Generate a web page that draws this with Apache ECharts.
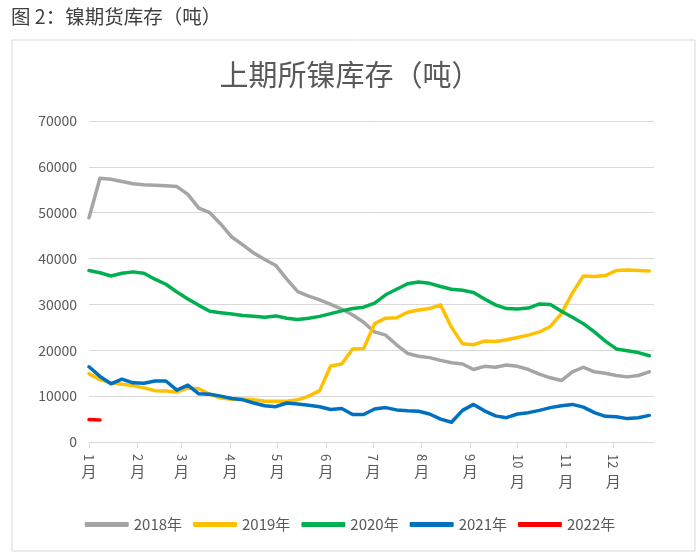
<!DOCTYPE html>
<html>
<head>
    <meta charset="utf-8">
    <title>上期所镍库存</title>
    <script src="https://cdn.jsdelivr.net/npm/echarts@6/dist/echarts.min.js"></script>
    <style>
        body { margin: 0; background: #fff; }
    </style>
</head>
<body>
    <div id="main" style="width: 700px;height:560px;"></div>

    <script>
        // 月份标签 及 每月第一天(一年中的第几天)
        var monthLabels = ['1', '2', '3', '4', '5', '6', '7', '8', '9', '10', '11', '12'];
        var monthStartDays = [0, 31, 59, 90, 120, 151, 181, 212, 243, 273, 304, 334];

        // 每周库存(吨)，按年份
        var stock2018 = [48900, 57500, 57300, 56800, 56300, 56100, 56000, 55900, 55700, 54000, 51000, 50000, 47500,
            44700, 43000, 41200, 39800, 38500, 35500, 32800, 31800, 31000, 30000, 29000, 27700, 26100, 24000,
            23300, 21200, 19300, 18700, 18400, 17800, 17300, 17000, 15800, 16500, 16300, 16800, 16500, 15800,
            14800, 14000, 13400, 15300, 16300, 15300, 15000, 14500, 14200, 14500, 15300];
        var stock2019 = [14900, 13600, 12900, 12600, 12300, 11800, 11200, 11100, 10900, 11800, 11600, 10400, 9600,
            9300, 9400, 9200, 8900, 8900, 8900, 9200, 10000, 11200, 16600, 17000, 20300, 20400, 25800,
            27000, 27100, 28300, 28800, 29100, 29900, 25000, 21400, 21200, 22000, 21900, 22300, 22800, 23300,
            24000, 25200, 28000, 32500, 36200, 36100, 36300, 37400, 37500, 37400, 37300];
        var stock2020 = [37400, 36900, 36200, 36800, 37100, 36800, 35500, 34400, 32700, 31200, 29800, 28500, 28200,
            27900, 27600, 27400, 27200, 27500, 27000, 26700, 27000, 27400, 28000, 28600, 29100, 29400, 30300,
            32100, 33300, 34500, 34900, 34600, 33900, 33300, 33100, 32600, 31200, 29900, 29100, 29000, 29200,
            30100, 30000, 28500, 27200, 25800, 24000, 22000, 20300, 19900, 19500, 18800];
        var stock2021 = [16400, 14300, 12700, 13700, 12900, 12800, 13300, 13300, 11300, 12400, 10500, 10400, 10000,
            9500, 9200, 8500, 7900, 7700, 8500, 8300, 8000, 7700, 7100, 7300, 6000, 6000, 7200,
            7500, 7000, 6800, 6700, 6100, 5000, 4300, 6900, 8200, 6800, 5700, 5300, 6100, 6400,
            6900, 7500, 7900, 8200, 7600, 6400, 5600, 5500, 5100, 5300, 5800];
        var stock2022 = [4900, 4800];

        var seriesNames = ['2018年', '2019年', '2020年', '2021年', '2022年'];
        var seriesData = [stock2018, stock2019, stock2020, stock2021, stock2022];
        var seriesColors = ['#A5A5A5', '#FFC000', '#00B050', '#0070C0', '#FF0000'];

        var fontCJK = '"Noto Sans CJK SC", "Noto Sans", sans-serif';

        // 周序号 -> 天数，画在以天为单位的横轴上
        function toPoints(arr) {
            return arr.map(function (v, i) { return [i * 7, v]; });
        }

        function monthIndex(value) {
            return monthStartDays.indexOf(Math.round(value));
        }

        var myChart = echarts.init(document.getElementById('main'));

        var option = {
            animation: false,
            backgroundColor: '#fff',
            textStyle: { fontFamily: fontCJK },
            title: [{
                text: '图 2：镍期货库存（吨）',
                left: 6,
                top: 2,
                textStyle: { fontSize: 19.5, fontWeight: 'normal', color: '#404040', fontFamily: fontCJK }
            }, {
                text: '上期所镍库存（吨）',
                left: 'center',
                top: 55,
                textStyle: { fontSize: 29, fontWeight: 'normal', color: '#595959', fontFamily: fontCJK }
            }],
            graphic: [{
                type: 'rect',
                shape: { x: 12, y: 40, width: 683, height: 511 },
                style: { fill: 'none', stroke: '#d9d9d9', lineWidth: 1 },
                silent: true
            }],
            legend: {
                data: seriesNames,
                bottom: 23,
                left: 'center',
                icon: 'roundRect',
                itemWidth: 44,
                itemHeight: 5,
                itemGap: 11,
                textStyle: { fontSize: 15, color: '#595959', fontFamily: fontCJK }
            },
            grid: {
                left: 89,
                right: 46,
                top: 121,
                bottom: 118,
                containLabel: false
            },
            xAxis: [{
                type: 'value',
                min: 0,
                max: 360,
                axisLine: { show: true, lineStyle: { color: '#d9d9d9' } },
                axisTick: { show: true, customValues: monthStartDays, length: 6, lineStyle: { color: '#d9d9d9' } },
                splitLine: { show: false },
                axisLabel: {
                    customValues: monthStartDays,
                    rotate: -90,
                    margin: 12,
                    fontSize: 13,
                    color: '#595959',
                    formatter: function (value) {
                        var i = monthIndex(value);
                        return i >= 0 ? monthLabels[i] : '';
                    }
                }
            }, {
                type: 'value',
                position: 'bottom',
                min: 0,
                max: 360,
                axisLine: { show: false },
                axisTick: { show: false },
                splitLine: { show: false },
                axisLabel: {
                    customValues: monthStartDays,
                    margin: 22,
                    color: '#595959',
                    formatter: function (value) {
                        var i = monthIndex(value);
                        if (i < 0) return '';
                        return monthLabels[i].length > 1 ? '{b|月}' : '{a|月}';
                    },
                    rich: {
                        a: { fontSize: 15, color: '#595959', fontFamily: fontCJK },
                        b: { fontSize: 15, color: '#595959', fontFamily: fontCJK, padding: [10, 0, 0, 0] }
                    }
                }
            }],
            yAxis: {
                type: 'value',
                min: 0,
                max: 70000,
                interval: 10000,
                axisLine: { show: false },
                axisTick: { show: false },
                splitLine: { lineStyle: { color: '#d9d9d9' } },
                axisLabel: {
                    fontSize: 14,
                    color: '#595959',
                    margin: 12,
                    formatter: function (v) { return String(v); }
                }
            },
            series: seriesNames.map(function (name, k) {
                return {
                    name: name,
                    type: 'line',
                    xAxisIndex: 0,
                    data: toPoints(seriesData[k]),
                    showSymbol: false,
                    symbol: 'none',
                    color: seriesColors[k],
                    lineStyle: { width: 3.5, color: seriesColors[k], cap: 'round', join: 'round' }
                };
            })
        };

        myChart.setOption(option);
    </script>
</body>
</html>
